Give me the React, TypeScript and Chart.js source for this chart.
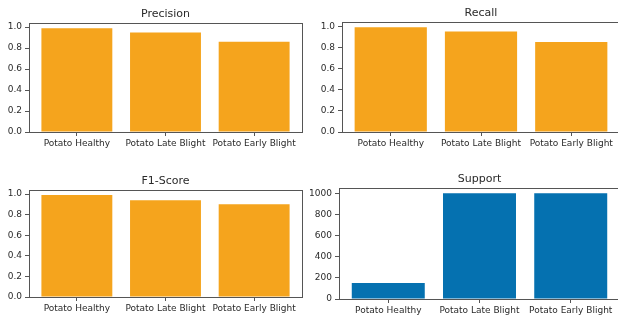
import React, { useEffect, useRef } from "react";
import { Chart, registerables } from "chart.js";

Chart.register(...registerables);

const categories = ["Potato Healthy", "Potato Late Blight", "Potato Early Blight"];
const precision = [0.99, 0.95, 0.86];
const recall = [0.99, 0.95, 0.85];
const f1Score = [0.99, 0.94, 0.9];
const support = [152, 1000, 1000];
const scoreTicks = [0, 0.2, 0.4, 0.6, 0.8, 1.0];
const supportTicks = [0, 200, 400, 600, 800, 1000];

const ORANGE = "#f5a41d";
const BLUE = "#0571b0";
const AXIS = "#555555";
const TEXT = "#2a2a2a";
const FONT = "'DejaVu Sans', sans-serif";

type Panel = {
  title: string;
  values: number[];
  ticks: number[];
  decimals: number;
  color: string;
  box: { left: number; top: number; width: number; height: number };
  yWidth: number;
  xHeight: number;
  padTop: number;
};

const panels: Panel[] = [
  { title: "Precision", values: precision, ticks: scoreTicks, decimals: 1, color: ORANGE,
    box: { left: 0, top: 0, width: 306, height: 160 }, yWidth: 29, xHeight: 28, padTop: 23 },
  { title: "Recall", values: recall, ticks: scoreTicks, decimals: 1, color: ORANGE,
    box: { left: 312, top: 0, width: 312, height: 160 }, yWidth: 30, xHeight: 28, padTop: 22 },
  { title: "F1-Score", values: f1Score, ticks: scoreTicks, decimals: 1, color: ORANGE,
    box: { left: 0, top: 160, width: 306, height: 160 }, yWidth: 29, xHeight: 23, padTop: 30 },
  { title: "Support", values: support, ticks: supportTicks, decimals: 0, color: BLUE,
    box: { left: 306, top: 160, width: 318, height: 160 }, yWidth: 33, xHeight: 21, padTop: 28 },
];

// Title above the plot area plus a full box frame around it
const framePlugin = {
  id: "panelFrame",
  afterDatasetsDraw(chart: any, _args: any, opts: any) {
    const { ctx, chartArea } = chart;
    const { left, right, top, bottom } = chartArea;
    ctx.save();
    ctx.strokeStyle = AXIS;
    ctx.lineWidth = 1;
    ctx.strokeRect(Math.round(left) + 0.5, Math.round(top) + 0.5,
      Math.round(right - left), Math.round(bottom - top));
    ctx.fillStyle = TEXT;
    ctx.font = `11px ${FONT}`;
    ctx.textAlign = "center";
    ctx.textBaseline = "middle";
    ctx.fillText(opts.text, (left + right) / 2, top - 9);
    ctx.restore();
  },
};

function PanelChart({ p }: { p: Panel }) {
  const ref = useRef<HTMLCanvasElement>(null);
  useEffect(() => {
    if (!ref.current) return;
    const maxVal = Math.max(...p.values) * 1.05;
    const chart = new Chart(ref.current, {
      type: "bar",
      data: {
        datasets: [
          {
            data: p.values.map((v, i) => ({ x: i, y: v })),
            backgroundColor: p.color,
            borderWidth: 0,
            categoryPercentage: 0.8,
            barPercentage: 1,
          },
        ],
      },
      plugins: [framePlugin],
      options: {
        animation: false,
        responsive: false,
        maintainAspectRatio: false,
        devicePixelRatio: 1,
        layout: { padding: { top: p.padTop, right: 4, left: 0, bottom: 0 } },
        plugins: {
          legend: { display: false },
          tooltip: { enabled: false },
          title: { display: false },
          panelFrame: { text: p.title },
        } as any,
        scales: {
          x: {
            type: "linear",
            min: -0.54,
            max: 2.54,
            offset: false,
            border: { display: false },
            grid: { display: true, drawOnChartArea: false, drawTicks: true, tickLength: 4, color: AXIS, offset: false },
            afterBuildTicks: (scale: any) => {
              scale.ticks = categories.map((_, i) => ({ value: i }));
            },
            afterFit: (scale: any) => {
              scale.height = p.xHeight;
            },
            ticks: {
              autoSkip: false,
              maxRotation: 0,
              padding: 2,
              color: TEXT,
              font: { family: FONT, size: 9 },
              callback: (v: any) => categories[v as number] ?? "",
            },
          },
          y: {
            min: 0,
            max: maxVal,
            border: { display: false },
            grid: { display: true, drawOnChartArea: false, drawTicks: true, tickLength: 4, color: AXIS },
            afterBuildTicks: (scale: any) => {
              scale.ticks = p.ticks.map((t) => ({ value: t }));
            },
            afterFit: (scale: any) => {
              scale.width = p.yWidth;
            },
            ticks: {
              padding: 3,
              color: TEXT,
              font: { family: FONT, size: 9 },
              callback: (v: any) => Number(v).toFixed(p.decimals),
            },
          },
        },
      } as any,
    });
    return () => chart.destroy();
  }, [p]);
  return (
    <canvas
      ref={ref}
      width={p.box.width}
      height={p.box.height}
      style={{
        position: "absolute",
        left: p.box.left,
        top: p.box.top,
        width: p.box.width,
        height: p.box.height,
      }}
    />
  );
}

export default function App() {
  return (
    <div
      style={{
        position: "absolute",
        left: 0,
        top: 0,
        width: 618,
        height: 320,
        overflow: "hidden",
        background: "#ffffff",
      }}
    >
      {panels.map((p) => (
        <PanelChart key={p.title} p={p} />
      ))}
    </div>
  );
}
